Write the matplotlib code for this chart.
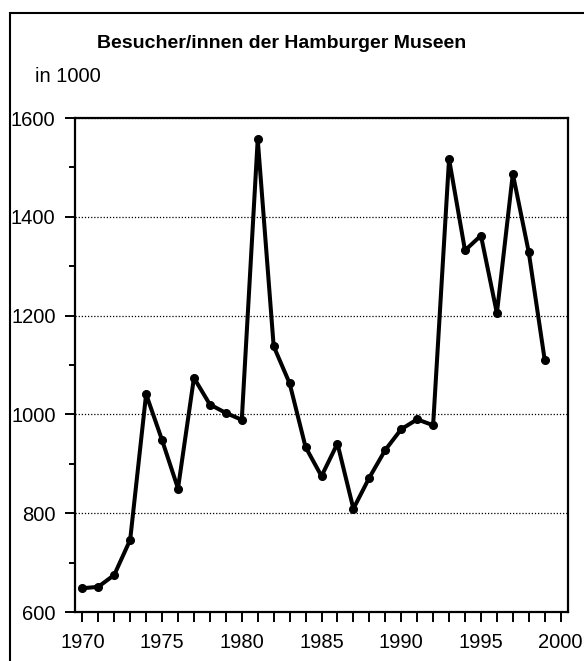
import matplotlib
matplotlib.use("Agg")
import matplotlib.pyplot as plt
from matplotlib.ticker import MultipleLocator
from matplotlib.patches import Rectangle

plt.rcParams['font.family'] = ['Liberation Sans', 'DejaVu Sans']

# Besucher/innen in 1000
years = list(range(1970, 2000))
visitors = [648, 651, 675, 746, 1041, 948, 850, 1074, 1020, 1003,
            989, 1557, 1138, 1063, 934, 875, 941, 809, 872, 928,
            970, 990, 978, 1517, 1332, 1362, 1205, 1487, 1328, 1110]

title = "Besucher/innen der Hamburger Museen"
unit = "in 1000"
y_ticks = [600, 800, 1000, 1200, 1400, 1600]
x_ticks = [1970, 1975, 1980, 1985, 1990, 1995, 2000]

fig = plt.figure(figsize=(5.84, 6.61), dpi=100)

# outer frame
fig.patches.append(Rectangle((10 / 584, -0.05), 1.0, 1 - 13 / 661 + 0.05,
                             transform=fig.transFigure, fill=False,
                             edgecolor='black', linewidth=1.5))

ax = fig.add_axes([75 / 584, 49 / 661, 493 / 584, 494 / 661])
ax.plot(years, visitors, color='black', linewidth=2.9,
        marker='o', markersize=5.5, clip_on=False, zorder=3)

ax.set_xlim(1969.54, 2000.46)
ax.set_ylim(600, 1600)
ax.set_xticks(x_ticks)
ax.xaxis.set_minor_locator(MultipleLocator(1))
ax.set_yticks(y_ticks)
ax.yaxis.set_minor_locator(MultipleLocator(100))

ax.tick_params(axis='both', which='both', direction='out', color='black', width=1.4)
ax.tick_params(axis='y', which='major', length=7, pad=7, labelsize=14.5)
ax.tick_params(axis='y', which='minor', length=4)
ax.tick_params(axis='x', which='both', length=7)
ax.tick_params(axis='x', which='major', pad=8, labelsize=14.5)

for s in ax.spines.values():
    s.set_linewidth(1.6)

ax.grid(axis='y', which='major', linestyle=(0, (1, 1.5)), color='black', linewidth=0.9)
ax.set_axisbelow(True)

fig.text(282 / 584, 1 - 43 / 661, title, ha='center', va='center',
         fontsize=14, fontweight='bold')
fig.text(35 / 584, 1 - 77 / 661, unit, ha='left', va='center', fontsize=14.5)

fig.savefig("out.png", dpi=100)
